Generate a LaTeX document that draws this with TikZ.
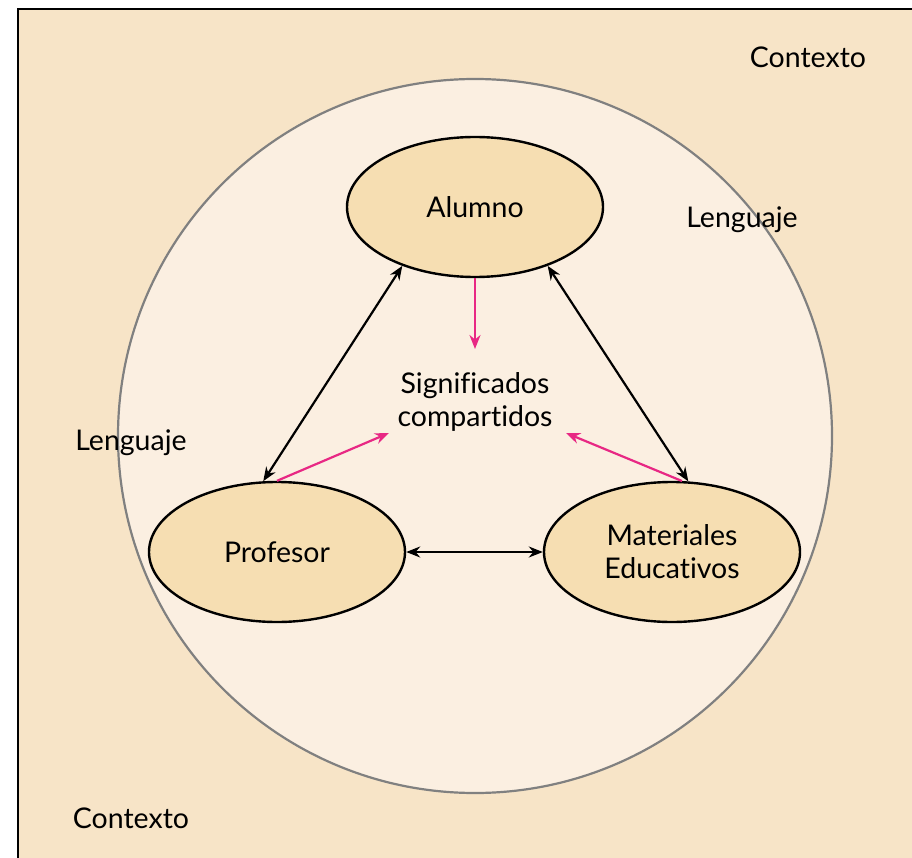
\documentclass[tikz,border=0pt]{standalone}
\usepackage{fontspec}
\setmainfont[Ligatures=NoCommon]{Lato}
\usepackage{tikz}
\usetikzlibrary{shapes.geometric,arrows.meta}
\definecolor{fondo}{RGB}{247,228,199}
\definecolor{circulo}{RGB}{251,239,225}
\definecolor{ovalo}{RGB}{246,222,178}
\definecolor{rosa}{RGB}{232,40,132}
\newcommand{\agente}[3]{\node [agente] (#1) at (#2) {#3};}

\begin{document}
\begin{tikzpicture}[x=1pt,y=-1pt,font=\fontsize{28.5}{33}\selectfont,
    agente/.style={ellipse,draw,line width=2.4pt,fill=ovalo,minimum width=256pt,minimum height=140pt,inner sep=0pt,align=center},
    doble/.style={{Stealth[length=14pt,width=11pt]}-{Stealth[length=14pt,width=11pt]},line width=2.2pt},
    flecha/.style={-{Stealth[length=14pt,width=11pt]},rosa,line width=2.2pt}]
    \useasboundingbox (0,0) rectangle (912,858);
    \fill[fondo] (18,9) rectangle (912,858);
    \draw[line width=2pt] (18,858) -- (18,9) -- (912,9);
    \filldraw[fill=circulo,draw=gray,line width=2.2pt] (475,436) circle (357pt);

    \agente{alumno}{475,207}{Alumno};
    \agente{profesor}{277,552}{Profesor};
    \agente{materiales}{672,552}{Materiales\\Educativos};

    \node[align=center] (signif) at (475,402) {Significados\\compartidos};
    \node (leng1) at (742,220) {Lenguaje};
    \node (leng2) at (131,443) {Lenguaje};
    \node (cont1) at (808,57) {Contexto};
    \node (cont2) at (131,818) {Contexto};

    \coordinate (s1) at (475,349);
    \coordinate (s2) at (389,433);
    \coordinate (s3) at (566,433);

    \draw[doble] (alumno.219) -- (profesor.101);
    \draw[doble] (alumno.321) -- (materiales.77);
    \draw[doble] (profesor.east) -- (materiales.west);
    \draw[flecha] (alumno.south) -- (s1);
    \draw[flecha] (profesor.north) -- (s2);
    \draw[flecha] (materiales.82) -- (s3);
\end{tikzpicture}
\end{document}
